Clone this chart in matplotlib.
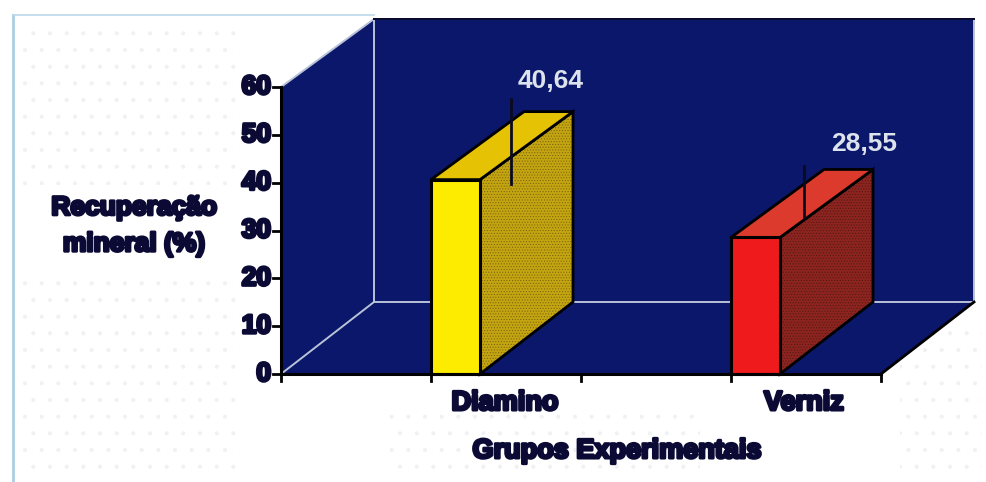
import matplotlib
matplotlib.use("Agg")
import matplotlib.pyplot as plt
import matplotlib.patheffects as pe
from matplotlib.patches import Polygon, Rectangle

categories = ["Diamino", "Verniz"]
values = [40.64, 28.55]
value_labels = ["40,64", "28,55"]
err_low = [39.7, 32.6]
err_high = [57.5, 43.5]
err_pos = [0.767, 1.743]
y_ticks = [0, 10, 20, 30, 40, 50, 60]

front_colors = ["#fdec00", "#ee1a1c"]
top_colors = ["#e6c205", "#dc3a2c"]
side_colors = ["#c4a511", "#8c2420"]
wall_color = "#0a176a"
edge_light = "#b9c2d6"
ink = "#0a0a35"

W, H = 987, 482
# scale: 300 px per category, 4.783 px per %
X0, Y0 = 281, 374
UX, UY = 300.0, 4.783
DX, DY = 93 / UX, 72 / UY   # oblique depth of the floor
TOP_DY = 68 / UY            # tops look a bit shallower
BAR_W = 49 / UX
BAR_START = [0.5, 1.5]
YMAX = 60
XMAX = 2

# label places, in pixels of the picture
label_px = [(551, 81), (864, 144)]
name_px = [(505, 403), (804, 403)]

fig = plt.figure(figsize=(W / 100, H / 100), dpi=100)
ax = fig.add_axes([0, 0, 1, 1])
ax.set_xlim(-X0 / UX, (W - X0) / UX)
ax.set_ylim(-(H - Y0) / UY, Y0 / UY)
ax.axis("off")
plt.rcParams["hatch.linewidth"] = 0.5


def px(x, y):
    return (x - X0) / UX, (Y0 - y) / UY


def poly(pts, fc, ec="none", lw=0, z=1, **kw):
    ax.add_patch(Polygon(pts, closed=True, facecolor=fc, edgecolor=ec, linewidth=lw, zorder=z, **kw))


def dark_text(x, y, s, size, **kw):
    ax.text(x, y, s, ha="center", va="center", fontsize=size, fontweight="bold", family="Liberation Sans",
            color=ink, zorder=7, path_effects=[pe.withStroke(linewidth=2.2, foreground=ink)], **kw)


# faint scan speckle on the paper
for (x0, y0, x1, y1) in [(20, 25, 240, 185), (20, 270, 240, 478), (385, 410, 700, 478), (900, 320, 982, 478)]:
    a = px(x0, y1)
    b = px(x1, y0)
    ax.add_patch(Rectangle(a, b[0] - a[0], b[1] - a[1], facecolor="none", edgecolor="#f0f1f3", linewidth=0,
                           hatch=".", zorder=0))

# frame of the scanned card
fx, fy = px(13, 15)
ax.plot([fx, fx], [-(H - Y0) / UY, fy], color="#a9cfe3", lw=2, zorder=0)
ax.plot([fx, DX], [fy, fy], color="#bcd8ea", lw=1.2, zorder=0)

# walls and floor
top_back = YMAX + TOP_DY
poly([(DX, DY), (XMAX + DX, DY), (XMAX + DX, top_back), (DX, top_back)], wall_color, z=1)
poly([(0, 0), (0, YMAX), (DX, top_back), (DX, DY)], wall_color, z=1)
poly([(0, 0), (XMAX, 0), (XMAX + DX, DY), (DX, DY)], wall_color, z=1)

ax.plot([0, DX, DX, DX + XMAX, DX + XMAX], [0, DY, top_back, top_back, DY], color=edge_light, lw=1.4, zorder=2)
ax.plot([DX, DX + XMAX], [DY, DY], color=edge_light, lw=1.4, zorder=2)
ax.plot([0, DX], [YMAX, top_back], color=edge_light, lw=1.4, zorder=2)
ax.plot([DX, DX + XMAX], [top_back, top_back], color="#05052a", lw=1.4, zorder=2)
ax.plot([XMAX, XMAX + DX], [0, DY], color="black", lw=2, zorder=3)
ax.plot([0, 0], [0, YMAX], color="black", lw=2.2, zorder=6)
ax.plot([0, XMAX], [0, 0], color="black", lw=2.2, zorder=6)

# ticks
for v in y_ticks:
    ax.plot([-8 / UX, 0], [v, v], color="black", lw=2, zorder=6)
    ax.text(-10 / UX, v, str(v), ha="right", va="center", fontsize=19, fontweight="bold",
            family="Liberation Sans", color=ink, zorder=7,
            path_effects=[pe.withStroke(linewidth=2.2, foreground=ink)])
for x in [0, 0.5, 1, 1.5, 2]:
    ax.plot([x, x], [0, -7 / UY], color="black", lw=2, zorder=6)

# bars
for i, name in enumerate(categories):
    x0 = BAR_START[i]
    x1 = x0 + BAR_W
    v = values[i]
    poly([(x1, 0), (x1 + DX, DY), (x1 + DX, v + TOP_DY), (x1, v)], side_colors[i], "black", 2, z=4)
    poly([(x1, 0), (x1 + DX, DY), (x1 + DX, v + TOP_DY), (x1, v)], "none", "#00000055", 0, z=4, hatch="......")
    poly([(x0, v), (x1, v), (x1 + DX, v + TOP_DY), (x0 + DX, v + TOP_DY)], top_colors[i], "black", 2, z=4)
    poly([(x0, 0), (x1, 0), (x1, v), (x0, v)], front_colors[i], "black", 2.2, z=5)
    ax.plot([err_pos[i]] * 2, [err_low[i], err_high[i]], color="#0a0a20", lw=2, zorder=6)
    lx, ly = px(*label_px[i])
    ax.text(lx, ly, value_labels[i], ha="center", va="center", fontsize=19, family="Liberation Sans",
            fontweight="bold", color="#dde3ec", zorder=7)
    nx, ny = px(*name_px[i])
    dark_text(nx, ny, name, 19.5)

gx, gy = px(617, 451)
dark_text(gx, gy, "Grupos Experimentais", 19.5)
rx, ry = px(134, 226)
dark_text(rx, ry, "Recuperação\nmineral (%)", 19, linespacing=1.65)

fig.savefig("out.png", dpi=100)
